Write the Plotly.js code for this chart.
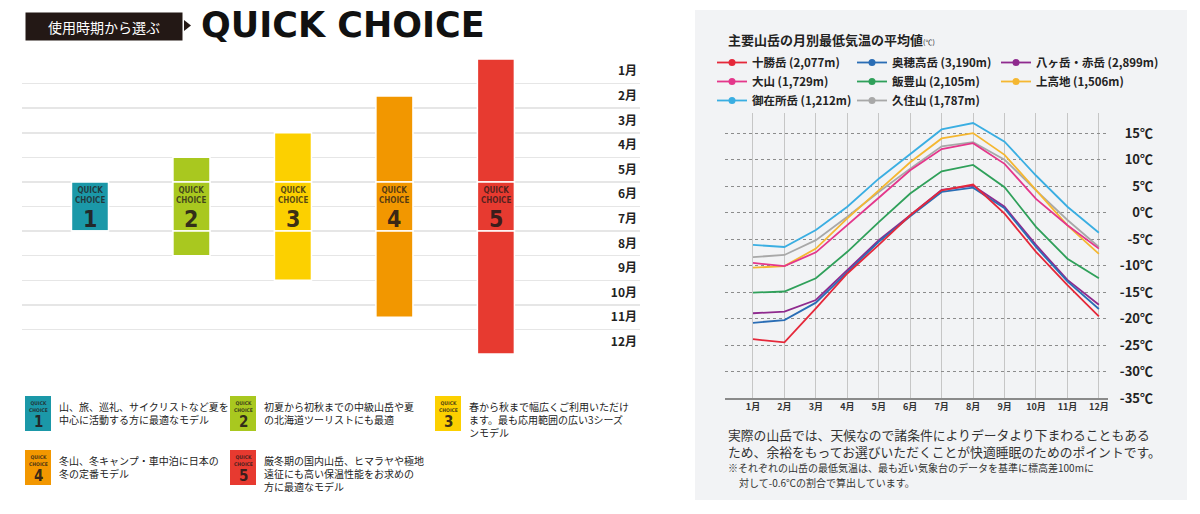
<!DOCTYPE html>
<html><head><meta charset="utf-8">
<script src="https://cdn.plot.ly/plotly-3.0.1.min.js"></script>
<style>html,body{margin:0;padding:0;background:#fff;}#chart{width:1200px;height:514px;}</style>
</head><body><div id="chart"></div>
<script>
// ---------- data ----------
const months = ['1月','2月','3月','4月','5月','6月','7月','8月','9月','10月','11月','12月'];
const monthNums = [1,2,3,4,5,6,7,8,9,10,11,12];

// QUICK CHOICE models: usage period in months counted from the start of January
const models = [1,2,3,4,5];
const modelColors = ['#1b98a8','#a9c81f','#fcd000','#f29700','#e73a30'];
const useStart = [5, 4, 3, 1.5, 0];
const useEnd   = [7, 8, 9, 10.5, 12];
const coreSpan = [5, 7]; // June – July
const modelNotes = [
  '山、旅、巡礼、サイクリストなど夏を<br>中心に活動する方に最適なモデル',
  '初夏から初秋までの中級山岳や夏<br>の北海道ツーリストにも最適',
  '春から秋まで幅広くご利用いただけ<br>ます。最も応用範囲の広い3シーズ<br>ンモデル',
  '冬山、冬キャンプ・車中泊に日本の<br>冬の定番モデル',
  '厳冬期の国内山岳、ヒマラヤや極地<br>遠征にも高い保温性能をお求めの<br>方に最適なモデル'
];

// monthly average minimum temperatures (℃)
const mountains = ['十勝岳 (2,077m)','奥穂高岳 (3,190m)','八ヶ岳・赤岳 (2,899m)','大山 (1,729m)','飯豊山 (2,105m)','上高地 (1,506m)','御在所岳 (1,212m)','久住山 (1,787m)'];
const tokachi     = [-23.9,-24.5,-18.1,-11.5,-6.1,-0.5,4.2,5.3,-0.2,-7.4,-13.7,-19.6];
const okuhotaka   = [-20.8,-20.3,-17.0,-11.2,-5.5,-0.7,3.9,4.7,0.8,-6.5,-13.0,-18.2];
const yatsugatake = [-19.0,-18.7,-16.5,-10.8,-5.2,-0.5,4.3,5.1,1.1,-6.1,-12.7,-17.4];
const daisen      = [-9.5,-10.1,-7.5,-2.4,2.8,8.0,12.0,13.1,9.2,2.6,-2.4,-6.8];
const iide        = [-15.1,-14.9,-12.4,-7.4,-1.8,3.6,7.8,9.0,4.8,-2.7,-8.7,-12.4];
const kamikochi   = [-10.4,-10.1,-6.8,-1.1,4.2,9.5,14.0,15.0,10.9,4.2,-2.4,-7.8];
const gozaisho    = [-6.1,-6.5,-3.3,1.1,6.4,11.1,15.7,16.9,13.4,7.0,1.1,-3.8];
const kuju        = [-8.4,-8.0,-5.2,-0.8,3.9,8.3,12.5,13.3,10.0,4.2,-1.4,-6.5];
const series = [tokachi, okuhotaka, yatsugatake, daisen, iide, kamikochi, gozaisho, kuju];
const lineColors = ['#e5283a','#2a6db5','#8f2a8e','#e4378b','#2fa05a','#f5b731','#3aaee2','#a8a8a8'];
const tempTicks = [15,10,5,0,-5,-10,-15,-20,-25,-30,-35];

// ---------- helpers ----------
const W = 1200, H = 514;
const px = x => x / W, py = y => 1 - y / H;
const JP = "'Noto Sans CJK JP', 'Noto Sans', sans-serif";
const COND = "'Liberation Sans Narrow', 'DejaVu Sans Condensed', sans-serif";

const traces = [];
// bars split into three segments so June–July is separated by white lines
const preLen   = useStart.map((s,i) => Math.max(0, Math.min(coreSpan[0], useEnd[i]) - s));
const coreBase = useStart.map(s => Math.max(s, coreSpan[0]));
const coreLen  = coreBase.map((b,i) => Math.max(0, Math.min(useEnd[i], coreSpan[1]) - b));
const postBase = useStart.map(s => Math.max(s, coreSpan[1]));
const postLen  = postBase.map((b,i) => Math.max(0, useEnd[i] - b));
[[useStart, preLen],[coreBase, coreLen],[postBase, postLen]].forEach(([b, l]) => {
  traces.push({type:'bar', x:models, base:b, y:l, width:0.365, xaxis:'x', yaxis:'y',
    marker:{color:modelColors, line:{color:'#ffffff', width:1.5}}, showlegend:false, hoverinfo:'skip'});
});

// temperature lines (drawn in reverse so 十勝岳 lies on top)
for (let i = series.length - 1; i >= 0; i--) {
  traces.push({type:'scatter', mode:'lines', x:monthNums, y:series[i], xaxis:'x2', yaxis:'y2',
    line:{color:lineColors[i], width:1.8}, showlegend:false, hoverinfo:'skip'});
}
// legend entries (line + dot)
const legNames = ['legend','legend2','legend3'];
mountains.forEach((m,i) => {
  traces.push({type:'scatter', mode:'lines+markers', x:[null], y:[null], xaxis:'x2', yaxis:'y2',
    name:m, legend:legNames[i % 3], line:{color:lineColors[i], width:1.8},
    marker:{color:lineColors[i], size:7}});
});

// ---------- annotations & shapes ----------
const ann = [];
const shapes = [];
const C = {xanchor:'center', yanchor:'middle', showarrow:false};

// right panel background
shapes.push({type:'rect', xref:'paper', yref:'paper', x0:px(695), x1:px(1187), y0:py(500), y1:py(10),
  fillcolor:'#f2f3f5', line:{width:0}, layer:'below'});

// header
ann.push({xref:'paper', yref:'paper', x:px(25), y:py(12), xanchor:'left', yanchor:'top',
  text:'使用時期から選ぶ', showarrow:false, bgcolor:'#231815', width:152, height:23, borderpad:2,
  font:{family:JP, size:14, color:'#ffffff'}});
shapes.push({type:'path', xref:'paper', yref:'paper',
  path:`M${px(184)},${py(20)} L${px(191)},${py(25.5)} L${px(184)},${py(31)} Z`,
  fillcolor:'#231815', line:{width:0}});
ann.push({xref:'paper', yref:'paper', x:px(199), y:py(25), xanchor:'left', yanchor:'middle',
  text:'QUICK CHOICE', showarrow:false, font:{family:"'DejaVu Sans', sans-serif", size:35, color:'#111', weight:'bold'}});

// labels inside bars
models.forEach((m,i) => {
  const mid = coreBase[i] + coreLen[i] / 2;
  ann.push({...C, xref:'x', yref:'y', x:m, y:mid - 0.45, text:'QUICK<br>CHOICE',
    font:{family:COND, size:8, color:'rgba(35,25,25,0.75)', weight:'bold'}});
  ann.push({...C, xref:'x', yref:'y', x:m, y:mid + 0.5, text:String(m),
    font:{family:COND, size:23, color:'rgba(35,25,25,0.9)', weight:'bold'}});
});

// left legend (icons + notes)
const iconPos = [[25,396],[230,396],[435,396],[25,450],[230,450]];
models.forEach((m,i) => {
  const [ix, iy] = iconPos[i];
  shapes.push({type:'rect', xref:'paper', yref:'paper', x0:px(ix), x1:px(ix+26), y0:py(iy+35), y1:py(iy),
    fillcolor:modelColors[i], line:{width:0}});
  ann.push({...C, xref:'paper', yref:'paper', x:px(ix+13), y:py(iy+10), text:'QUICK<br>CHOICE',
    font:{family:COND, size:5, color:'rgba(35,25,25,0.8)', weight:'bold'}});
  ann.push({...C, xref:'paper', yref:'paper', x:px(ix+13), y:py(iy+26), text:String(m),
    font:{family:COND, size:15, color:'rgba(35,25,25,0.9)', weight:'bold'}});
  ann.push({xref:'paper', yref:'paper', x:px(ix+32), y:py(iy+1), xanchor:'left', yanchor:'top', align:'left',
    text:modelNotes[i], showarrow:false, font:{family:JP, size:10, color:'#222'}});
});

// right panel texts
ann.push({xref:'paper', yref:'paper', x:px(726), y:py(40), xanchor:'left', yanchor:'middle',
  text:'<b>主要山岳の月別最低気温の平均値</b><span style="font-size:7px">(℃)</span>', showarrow:false,
  font:{family:JP, size:13, color:'#222'}});
ann.push({xref:'paper', yref:'paper', x:px(726), y:py(434), xanchor:'left', yanchor:'middle',
  text:'実際の山岳では、天候なので諸条件によりデータより下まわることもある', showarrow:false,
  font:{family:JP, size:12.8, color:'#333'}});
ann.push({xref:'paper', yref:'paper', x:px(726), y:py(451), xanchor:'left', yanchor:'middle',
  text:'ため、余裕をもってお選びいただくことが快適睡眠のためのポイントです。', showarrow:false,
  font:{family:JP, size:12.8, color:'#333'}});
ann.push({xref:'paper', yref:'paper', x:px(726), y:py(467), xanchor:'left', yanchor:'middle',
  text:'※それぞれの山岳の最低気温は、最も近い気象台のデータを基準に標高差100mに', showarrow:false,
  font:{family:JP, size:10, color:'#333'}});
ann.push({xref:'paper', yref:'paper', x:px(737), y:py(482), xanchor:'left', yanchor:'middle',
  text:'対して-0.6℃の割合で算出しています。', showarrow:false,
  font:{family:JP, size:10, color:'#333'}});

// ---------- layout ----------
const legBase = {xanchor:'left', yanchor:'top', bgcolor:'rgba(0,0,0,0)', borderwidth:0,
  font:{family:JP, size:11.5, color:'#222', weight:'bold'}, itemwidth:30, tracegroupgap:0,
  itemclick:false, itemdoubleclick:false};

const layout = {
  width:W, height:H, margin:{l:0, r:0, t:0, b:0},
  paper_bgcolor:'#ffffff', plot_bgcolor:'rgba(0,0,0,0)',
  barmode:'overlay', showlegend:true,
  xaxis:{domain:[px(22), px(640)], range:[0.33, 6.42], visible:false, fixedrange:true},
  yaxis:{domain:[py(354), py(59)], range:[12, 0], anchor:'x', side:'right', ticklabelposition:'inside',
    tickmode:'array', tickvals:months.map((m,i) => i + 0.5), ticktext:months, ticks:'',
    showgrid:false, zeroline:false, showline:false,
    tickfont:{family:JP, size:12, color:'#222', weight:'bold'},
    minor:{tickmode:'array', tickvals:months.map((m,i) => i), showgrid:true, gridcolor:'#e6e6e6', gridwidth:1.5, ticks:''}},
  xaxis2:{domain:[px(725), px(1108)], range:[0.11, 12.29], anchor:'y2',
    tickmode:'array', tickvals:monthNums, ticktext:months, ticks:'',
    showgrid:true, gridcolor:'#c6c6c6', gridwidth:1, zeroline:false,
    showline:true, linecolor:'#8a8a8a', linewidth:1.5,
    tickfont:{family:JP, size:9, color:'#333', weight:'bold'}},
  yaxis2:{domain:[py(398), py(113)], range:[-35, 18.8], anchor:'free', position:px(1153), side:'left',
    tickmode:'array', tickvals:tempTicks, ticktext:tempTicks.map(t => t + '℃'), ticks:'',
    showgrid:true, gridcolor:'#8c8c8c', griddash:'3px,3px', gridwidth:1, zeroline:false, showline:false,
    tickfont:{family:JP, size:13, color:'#222', weight:'bold'}},
  legend:{...legBase, x:px(712), y:py(48)},
  legend2:{...legBase, x:px(852), y:py(48)},
  legend3:{...legBase, x:px(996), y:py(48)},
  annotations:ann, shapes:shapes
};

Plotly.newPlot('chart', traces, layout, {staticPlot:true, displayModeBar:false});
</script></body></html>
